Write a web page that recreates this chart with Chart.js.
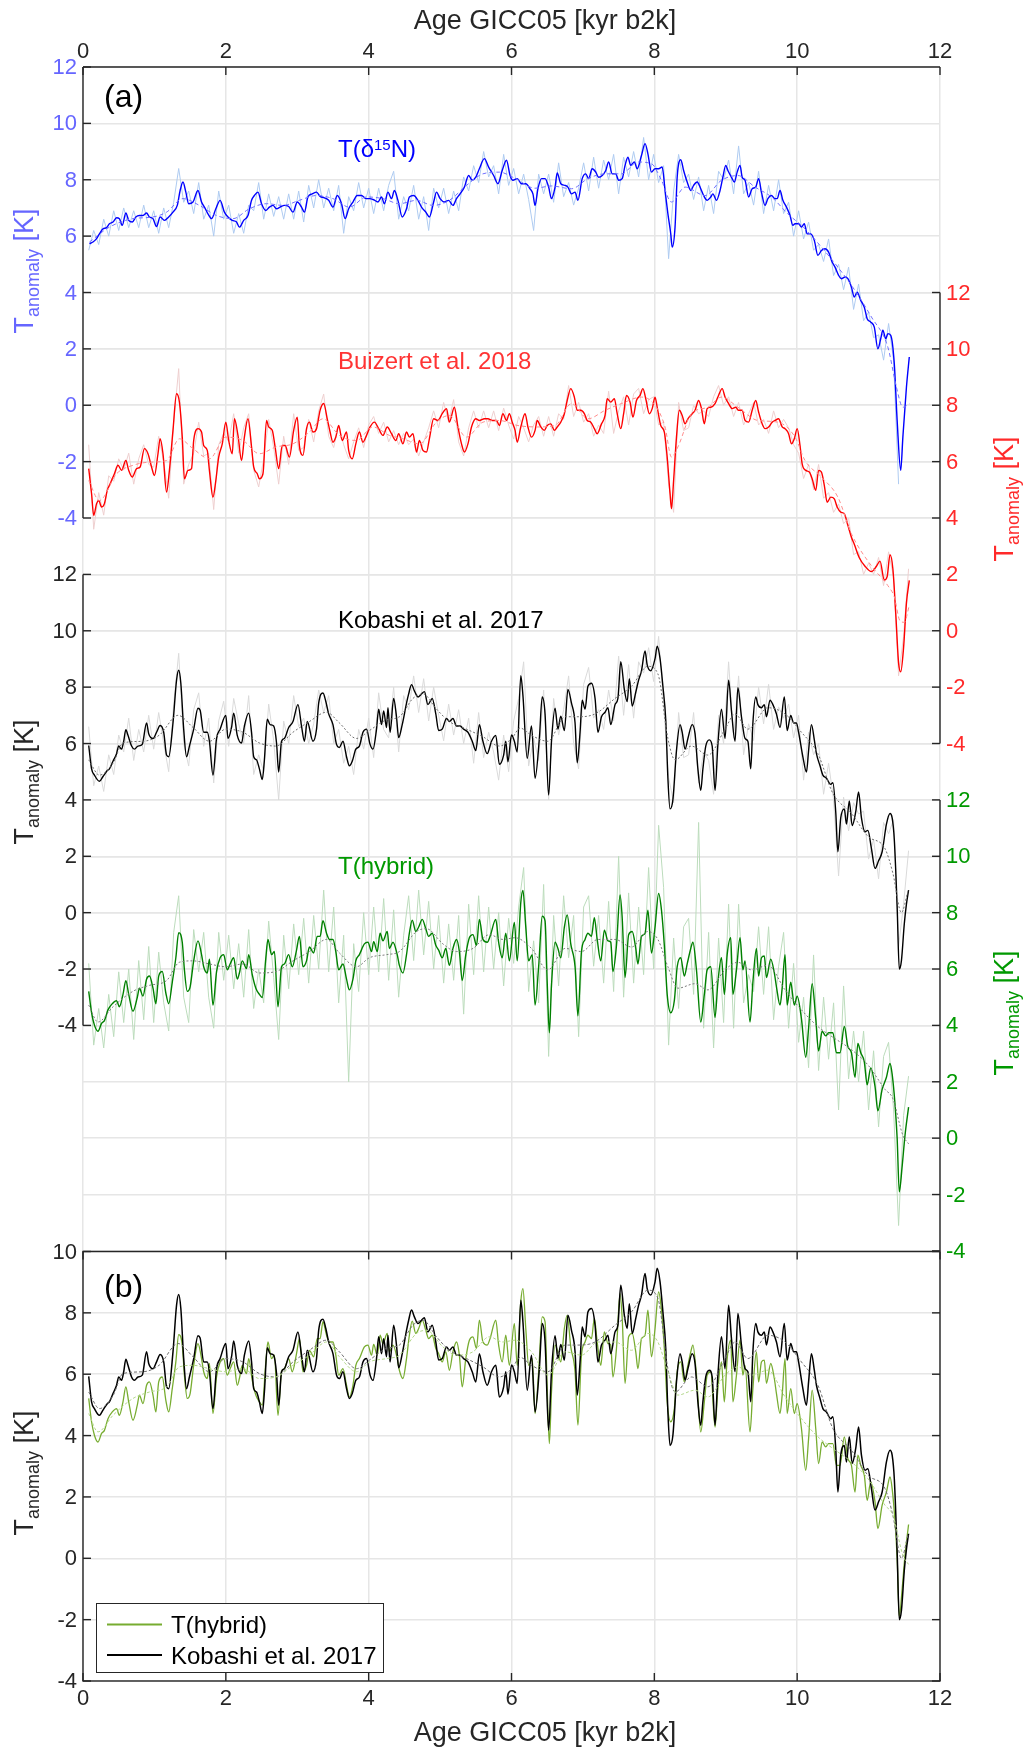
<!DOCTYPE html>
<html>
<head>
<meta charset="utf-8">
<title>Holocene Greenland temperature anomalies</title>
<script src="https://cdn.jsdelivr.net/npm/chart.js@4.4.1/dist/chart.umd.min.js"></script>
<style>
  html, body { margin: 0; padding: 0; background: #fff; }
  #wrap { width: 1030px; height: 1749px; }
</style>
</head>
<body>
<div id="wrap"><canvas id="tempChart" width="1030" height="1749"></canvas></div>
<script>
// ---- tick values ----
const X_TICKS = [0, 2, 4, 6, 8, 10, 12];
const A_TICKS = [-4, -2, 0, 2, 4, 6, 8, 10, 12];
const B_TICKS = [-4, -2, 0, 2, 4, 6, 8, 10];

// ---- undecimated records on a common age grid (kyr b2k) ----
const rawAge = [
  0.08,0.15,0.22,0.29,0.36,0.43,0.50,0.57,0.64,0.71,
  0.78,0.85,0.92,0.99,1.06,1.13,1.20,1.27,1.34,1.41,
  1.48,1.55,1.62,1.69,1.76,1.83,1.90,1.97,2.04,2.11,
  2.18,2.25,2.32,2.39,2.46,2.53,2.60,2.67,2.74,2.81,
  2.88,2.95,3.02,3.09,3.16,3.23,3.30,3.37,3.44,3.51,
  3.58,3.65,3.72,3.79,3.86,3.93,4.00,4.07,4.14,4.21,
  4.28,4.35,4.42,4.49,4.56,4.63,4.70,4.77,4.84,4.91,
  4.98,5.05,5.12,5.19,5.26,5.33,5.40,5.47,5.54,5.61,
  5.68,5.75,5.82,5.89,5.96,6.03,6.10,6.17,6.24,6.31,
  6.38,6.45,6.52,6.59,6.66,6.73,6.80,6.87,6.94,7.01,
  7.08,7.15,7.22,7.29,7.36,7.43,7.50,7.57,7.64,7.71,
  7.78,7.85,7.92,7.99,8.06,8.13,8.20,8.27,8.34,8.41,
  8.48,8.55,8.62,8.69,8.76,8.83,8.90,8.97,9.04,9.11,
  9.18,9.25,9.32,9.39,9.46,9.53,9.60,9.67,9.74,9.81,
  9.88,9.95,10.02,10.09,10.16,10.23,10.30,10.37,10.44,10.51,
  10.58,10.65,10.72,10.79,10.86,10.93,11.00,11.07,11.14,11.21,
  11.28,11.35,11.42,11.49,11.56
];
const dN15Raw = [
  5.5,6.2,5.7,6.6,6.0,6.9,6.2,7.0,6.3,6.9, 6.3,7.1,6.3,6.9,6.1,7.0,6.3,7.2,8.4,7.2,
  7.6,6.8,7.9,6.6,7.1,6.0,7.6,6.6,7.1,6.1, 6.8,6.1,7.1,6.9,7.9,6.6,7.5,6.7,7.4,6.6,
  7.5,6.6,7.6,6.5,7.8,7.0,8.0,7.0,7.7,6.9, 7.8,6.1,7.4,6.9,7.9,7.0,7.7,6.8,7.7,6.9,
  7.8,8.3,6.6,7.4,6.9,7.8,6.6,7.4,6.2,7.7, 7.0,7.7,6.8,7.6,6.9,8.1,7.6,8.5,7.9,9.0,
  8.1,8.5,7.5,8.9,7.8,8.4,7.5,8.2,7.3,6.2, 8.2,7.5,8.2,7.2,8.6,7.4,7.9,7.1,7.7,8.6,
  7.6,8.8,7.7,8.7,8.0,8.9,7.5,8.8,8.1,9.0, 8.1,9.5,8.0,8.9,7.9,8.5,5.2,7.6,8.9,7.9,
  8.2,7.3,8.1,6.9,7.8,6.8,8.3,8.0,8.7,7.5, 9.2,7.5,7.9,7.1,8.3,6.8,7.8,6.9,8.0,6.8,
  7.2,6.0,6.9,5.9,6.5,5.5,5.7,5.1,5.9,4.6, 5.0,4.1,4.9,3.4,4.3,3.0,3.3,2.4,2.5,1.6,
  2.9,1.6,-2.8,null,null
];
const buizertRaw = [
  6.6,3.6,4.9,4.1,5.5,5.3,6.1,5.7,6.3,5.2, 6.1,6.6,5.9,5.8,6.9,6.0,4.7,7.4,9.3,5.2,
  5.9,6.3,7.4,6.2,6.3,4.3,6.6,7.0,6.7,7.7, 6.3,7.2,7.7,5.7,5.1,6.1,7.5,6.5,5.2,6.9,
  5.9,7.7,6.4,6.5,7.5,6.7,7.8,8.4,6.9,6.5, 7.3,6.6,6.1,6.7,7.2,6.5,7.3,7.6,7.0,7.4,
  6.7,7.1,6.6,7.0,6.6,6.8,6.2,6.7,7.2,7.8, 7.2,8.1,7.4,8.2,6.7,6.2,7.2,7.8,7.2,7.8,
  7.2,7.8,7.1,7.9,7.3,6.8,7.6,7.2,6.7,7.3, 7.6,6.9,7.6,6.9,7.7,7.5,8.7,7.6,8.1,7.4,
  7.7,6.9,7.3,7.0,8.5,7.0,7.8,8.3,7.3,8.4, 8.6,7.7,8.2,8.3,7.3,7.4,5.2,4.2,8.1,7.1,
  7.2,8.0,7.7,7.8,7.6,8.3,8.7,8.0,8.3,7.6, 8.1,7.3,7.7,8.1,7.3,7.5,7.0,7.8,7.2,7.5,
  7.2,6.6,6.3,5.4,5.9,5.0,5.9,4.7,4.9,4.2, 4.5,3.8,4.0,2.7,2.8,2.0,2.4,2.0,2.6,1.6,
  2.8,1.9,-1.6,-0.2,2.2
];
const kobashiRaw = [
  6.6,4.5,5.2,4.3,5.6,4.9,6.3,5.7,6.9,5.4, 6.5,5.7,7.0,5.8,7.1,6.0,5.0,7.4,9.2,6.0,
  5.2,7.2,7.8,5.9,6.9,4.6,6.8,7.5,5.9,7.6, 6.7,6.0,7.7,4.9,5.6,5.0,7.4,6.1,4.0,6.8,
  6.0,7.7,6.6,6.9,6.0,6.7,7.9,7.1,7.7,6.0, 6.5,5.3,5.9,4.9,6.5,5.8,6.9,5.5,7.8,6.5,
  6.2,8.0,5.7,7.7,7.2,8.4,7.1,8.3,6.8,8.0, 7.0,6.1,7.4,6.3,7.2,6.0,6.9,5.3,7.1,5.5,
  6.4,5.7,4.7,6.3,5.0,6.8,7.6,8.9,5.2,6.2, 5.4,7.9,4.0,7.6,6.3,7.2,8.4,6.0,5.1,8.1,
  8.7,6.9,7.2,6.5,7.9,6.8,9.1,7.0,8.8,6.9, 8.9,8.5,9.4,8.2,9.8,7.4,4.8,3.9,7.1,5.5,
  5.6,7.1,4.6,5.7,5.4,4.2,7.0,6.0,8.9,6.2, 8.4,5.6,6.7,6.1,8.0,6.7,8.1,6.5,7.3,6.9,
  7.4,6.2,7.0,4.7,6.4,5.6,6.0,4.2,5.3,4.0, 1.3,4.1,2.9,3.9,3.5,3.6,1.9,2.6,1.2,3.2,
  2.8,3.3,-1.2,0.3,2.2
];
const hybridRaw = [
  6.2,3.3,4.6,3.2,5.1,3.6,5.9,4.1,6.0,3.5, 6.3,4.2,6.8,4.1,6.6,4.8,3.8,7.3,8.6,5.0,
  4.1,7.4,5.9,7.3,5.0,3.9,7.3,5.6,7.2,5.3, 6.9,5.0,7.4,4.6,6.0,4.8,7.7,5.7,3.5,7.2,
  5.3,7.6,5.8,7.8,5.5,7.9,6.0,8.8,5.9,8.2, 4.8,7.2,2.0,6.9,5.2,8.0,5.8,8.2,5.9,8.5,
  5.6,8.1,5.0,7.2,8.6,6.3,8.8,6.5,8.4,6.0, 7.9,5.5,7.6,5.6,7.9,4.4,8.3,5.8,8.6,5.9,
  8.2,6.0,8.0,5.4,7.8,6.2,8.2,9.6,5.2,7.0, 4.8,9.0,2.9,7.9,5.4,8.6,6.4,7.9,3.6,8.2,
  8.6,6.1,7.9,5.5,8.4,5.2,10.0,5.0,8.7,5.5, 8.2,5.8,9.6,6.0,11.1,8.9,3.3,7.1,4.6,7.5,
  7.8,5.1,11.2,3.9,7.3,3.2,7.1,4.1,8.3,3.9, 8.3,4.8,5.8,5.2,7.5,5.1,7.5,4.2,6.1,7.3,
  3.9,6.2,3.4,5.0,2.5,6.5,2.4,5.0,2.8,4.8, 1.0,5.4,2.1,3.8,2.0,3.8,1.0,3.1,0.4,2.9,
  3.4,1.0,-3.1,0.8,2.2
];

// ---- filtered records, [age kyr, T anomaly K] ----
const dN15Fit = [
  [0.09,5.73],[0.14,5.79],[0.19,5.91],[0.23,6.08],[0.28,6.26],[0.33,6.30],[0.37,6.44],[0.42,6.50],[0.47,6.65],[0.51,6.62],
  [0.55,6.38],[0.60,6.82],[0.64,6.56],[0.69,6.50],[0.74,6.68],[0.79,6.73],[0.84,6.73],[0.89,6.82],[0.93,6.68],[0.98,6.62],
  [1.03,6.34],[1.08,6.68],[1.14,6.56],[1.20,6.68],[1.26,6.85],[1.32,7.09],[1.36,7.62],[1.40,7.92],[1.44,7.56],[1.48,7.15],
  [1.54,7.21],[1.61,7.62],[1.66,7.21],[1.70,7.03],[1.75,6.79],[1.80,6.62],[1.86,6.97],[1.92,7.27],[1.98,6.85],[2.03,6.68],
  [2.09,6.56],[2.15,6.50],[2.19,6.32],[2.25,6.56],[2.31,6.73],[2.36,7.27],[2.40,7.44],[2.45,7.56],[2.50,7.15],[2.56,6.91],
  [2.61,7.03],[2.66,7.09],[2.71,6.97],[2.76,7.03],[2.82,7.09],[2.88,7.05],[2.94,6.85],[3.00,7.21],[3.06,7.03],[3.10,6.85],
  [3.15,7.39],[3.21,7.50],[3.27,7.56],[3.32,7.41],[3.38,7.36],[3.44,7.27],[3.50,7.03],[3.56,7.44],[3.62,7.15],[3.67,6.62],
  [3.72,6.97],[3.78,7.21],[3.84,7.44],[3.90,7.44],[3.96,7.33],[4.01,7.33],[4.07,7.29],[4.13,7.21],[4.18,7.39],[4.22,7.15],
  [4.27,7.56],[4.32,7.33],[4.36,7.62],[4.41,7.27],[4.47,6.68],[4.53,6.97],[4.57,7.39],[4.63,7.44],[4.69,7.27],[4.74,7.03],
  [4.80,6.85],[4.85,6.68],[4.91,7.21],[4.95,7.56],[5.00,7.33],[5.06,7.21],[5.12,7.27],[5.18,7.09],[5.23,7.33],[5.28,7.50],
  [5.34,7.74],[5.40,8.15],[5.45,7.98],[5.50,8.09],[5.55,8.39],[5.62,8.75],[5.68,8.45],[5.75,8.15],[5.81,7.86],[5.87,8.33],
  [5.93,8.69],[5.98,8.15],[6.02,7.98],[6.08,8.04],[6.14,7.86],[6.20,7.86],[6.26,7.68],[6.30,7.50],[6.33,7.09],[6.37,7.68],
  [6.42,8.04],[6.47,8.04],[6.52,7.74],[6.56,7.33],[6.61,7.74],[6.64,8.24],[6.69,7.86],[6.75,7.80],[6.79,7.74],[6.84,7.50],
  [6.89,7.56],[6.93,7.27],[6.99,8.04],[7.04,8.21],[7.08,8.04],[7.13,8.39],[7.18,8.27],[7.22,8.09],[7.27,8.15],[7.32,8.33],
  [7.36,8.63],[7.41,8.21],[7.46,8.21],[7.50,7.98],[7.55,8.04],[7.59,8.51],[7.63,8.80],[7.67,8.51],[7.72,8.63],[7.76,8.39],
  [7.82,8.86],[7.87,9.28],[7.91,8.92],[7.96,8.27],[8.01,8.39],[8.06,8.39],[8.11,8.45],[8.15,7.62],[8.19,6.79],[8.23,6.08],
  [8.25,5.61],[8.29,6.32],[8.32,8.09],[8.37,8.71],[8.41,8.33],[8.46,7.92],[8.51,7.62],[8.55,7.80],[8.60,7.92],[8.65,7.68],
  [8.69,7.44],[8.74,7.27],[8.79,7.39],[8.82,7.50],[8.87,7.27],[8.92,7.62],[8.96,8.09],[9.00,8.51],[9.03,8.33],[9.08,8.09],
  [9.12,7.92],[9.16,8.27],[9.20,8.51],[9.23,8.09],[9.27,7.98],[9.32,7.39],[9.37,7.68],[9.42,7.74],[9.46,8.04],[9.50,7.56],
  [9.55,7.09],[9.59,7.33],[9.64,7.44],[9.69,7.33],[9.72,7.33],[9.76,7.62],[9.80,7.27],[9.85,7.03],[9.90,6.73],[9.94,6.38],
  [9.97,6.44],[10.02,6.44],[10.06,6.32],[10.10,6.44],[10.14,6.08],[10.19,6.08],[10.24,5.85],[10.29,5.32],[10.34,5.49],[10.39,5.55],
  [10.44,5.43],[10.49,5.08],[10.53,4.90],[10.58,4.61],[10.62,4.49],[10.67,4.55],[10.71,4.49],[10.76,4.19],[10.80,3.84],[10.84,4.01],
  [10.89,3.72],[10.94,3.48],[10.98,3.07],[11.03,2.95],[11.08,2.77],[11.13,2.00],[11.17,2.36],[11.20,2.66],[11.24,2.36],[11.27,2.54],
  [11.31,2.48],[11.36,1.47],[11.40,-0.54],[11.45,-2.31],[11.48,-1.13],[11.53,0.64],[11.57,1.71]
];
const buizertFit = [
  [0.08,5.75],[0.12,4.86],[0.15,4.09],[0.19,4.51],[0.22,4.62],[0.26,4.39],[0.30,4.51],[0.34,4.98],[0.38,5.21],[0.44,5.57],
  [0.49,5.87],[0.54,5.69],[0.60,6.04],[0.64,5.69],[0.69,5.45],[0.75,5.75],[0.80,5.81],[0.86,6.46],[0.91,6.28],[0.96,5.81],
  [1.00,5.51],[1.05,6.28],[1.08,6.81],[1.12,6.28],[1.17,4.92],[1.21,5.69],[1.26,7.11],[1.31,8.41],[1.35,8.11],[1.39,6.87],
  [1.42,5.39],[1.47,5.69],[1.52,5.75],[1.55,6.75],[1.61,7.17],[1.66,7.05],[1.69,6.57],[1.74,6.40],[1.77,5.69],[1.82,4.74],
  [1.86,5.33],[1.90,6.16],[1.95,6.63],[2.00,7.40],[2.04,6.75],[2.09,6.28],[2.12,7.52],[2.17,6.93],[2.22,6.04],[2.26,6.87],
  [2.31,7.52],[2.36,6.52],[2.39,5.81],[2.44,5.57],[2.47,5.39],[2.52,5.57],[2.57,7.46],[2.60,7.23],[2.65,7.11],[2.69,6.52],
  [2.74,5.75],[2.79,6.57],[2.83,6.57],[2.89,6.16],[2.95,7.11],[3.00,7.58],[3.03,6.57],[3.08,6.22],[3.13,7.17],[3.17,7.40],
  [3.22,7.05],[3.27,7.17],[3.32,7.82],[3.37,8.06],[3.42,7.52],[3.46,7.05],[3.50,6.69],[3.54,6.87],[3.58,7.28],[3.63,6.75],
  [3.69,7.05],[3.72,6.40],[3.77,6.10],[3.82,6.63],[3.87,7.05],[3.92,6.69],[3.97,6.93],[4.02,7.23],[4.08,7.40],[4.14,7.17],
  [4.20,6.93],[4.26,7.23],[4.32,6.99],[4.38,6.75],[4.42,6.99],[4.48,6.63],[4.53,7.05],[4.57,6.87],[4.62,6.99],[4.67,6.34],
  [4.71,6.75],[4.76,6.40],[4.81,6.34],[4.85,6.81],[4.91,7.52],[4.97,7.46],[5.03,7.70],[5.09,7.88],[5.13,7.40],[5.20,7.93],
  [5.25,7.23],[5.30,6.63],[5.34,6.34],[5.39,6.63],[5.44,7.23],[5.50,7.52],[5.55,7.46],[5.62,7.52],[5.67,7.52],[5.73,7.46],
  [5.79,7.46],[5.83,7.28],[5.88,7.70],[5.93,7.46],[5.97,7.70],[6.01,7.40],[6.05,7.11],[6.08,6.69],[6.13,7.23],[6.19,7.70],
  [6.23,7.23],[6.28,6.87],[6.33,7.11],[6.36,7.46],[6.41,7.23],[6.46,7.11],[6.50,7.28],[6.55,7.34],[6.60,7.11],[6.64,7.23],
  [6.69,7.40],[6.74,7.70],[6.78,8.17],[6.83,8.59],[6.88,8.29],[6.92,7.82],[6.97,7.82],[7.02,7.70],[7.06,7.46],[7.11,7.40],
  [7.16,7.17],[7.20,6.99],[7.26,7.34],[7.31,7.64],[7.34,8.23],[7.39,8.11],[7.44,8.23],[7.48,7.70],[7.53,7.17],[7.57,7.70],
  [7.61,8.35],[7.66,8.11],[7.70,7.58],[7.75,8.17],[7.80,8.35],[7.84,8.59],[7.88,8.23],[7.93,7.70],[7.97,7.88],[8.01,8.29],
  [8.04,7.93],[8.09,7.28],[8.14,7.05],[8.18,6.16],[8.22,4.86],[8.24,4.33],[8.27,5.33],[8.31,6.87],[8.35,7.82],[8.39,7.64],
  [8.43,7.34],[8.47,7.52],[8.53,7.70],[8.57,7.82],[8.62,8.17],[8.66,7.88],[8.70,7.34],[8.74,7.88],[8.79,7.93],[8.85,8.06],
  [8.89,8.29],[8.95,8.59],[8.99,8.29],[9.04,8.06],[9.09,7.88],[9.14,7.93],[9.18,7.82],[9.23,7.82],[9.27,7.46],[9.32,7.40],
  [9.37,7.82],[9.42,8.17],[9.46,7.76],[9.51,7.34],[9.55,7.17],[9.60,7.23],[9.65,7.40],[9.69,7.46],[9.74,7.52],[9.79,7.23],
  [9.83,7.17],[9.88,6.99],[9.92,6.63],[9.96,6.81],[10.00,7.17],[10.04,6.57],[10.07,5.92],[10.12,5.69],[10.17,5.63],[10.21,5.39],
  [10.26,4.98],[10.30,5.69],[10.34,5.63],[10.38,5.16],[10.42,4.56],[10.47,4.74],[10.52,4.68],[10.56,4.39],[10.61,4.21],[10.66,4.15],
  [10.71,3.74],[10.76,3.32],[10.80,3.07],[10.87,2.59],[10.95,2.29],[11.04,2.10],[11.11,2.29],[11.16,2.47],[11.22,1.80],[11.26,1.92],
  [11.30,2.70],[11.34,2.20],[11.38,0.63],[11.42,-1.14],[11.45,-1.46],[11.49,-0.60],[11.53,0.98],[11.57,1.79]
];
const kobashiFit = [
  [0.08,5.93],[0.12,5.10],[0.16,4.88],[0.23,4.66],[0.28,4.83],[0.34,5.04],[0.37,5.10],[0.42,5.37],[0.47,5.64],[0.50,5.91],
  [0.54,5.80],[0.57,6.08],[0.60,6.49],[0.63,6.29],[0.68,5.91],[0.72,5.80],[0.77,5.91],[0.83,5.97],[0.89,6.73],[0.92,6.35],
  [0.98,6.18],[1.03,6.40],[1.08,6.64],[1.13,6.40],[1.17,5.59],[1.20,5.53],[1.26,6.73],[1.31,8.25],[1.34,8.60],[1.37,8.14],
  [1.41,6.51],[1.45,5.53],[1.49,5.91],[1.55,6.51],[1.61,7.25],[1.64,7.18],[1.69,6.40],[1.74,6.40],[1.77,6.08],[1.82,4.88],
  [1.87,6.18],[1.92,6.51],[2.00,7.00],[2.03,6.18],[2.08,6.57],[2.11,7.08],[2.16,6.29],[2.22,6.02],[2.26,6.62],[2.32,7.08],
  [2.36,6.40],[2.39,5.53],[2.43,5.42],[2.47,5.10],[2.51,4.72],[2.54,5.42],[2.58,6.86],[2.62,6.67],[2.67,6.62],[2.71,6.02],
  [2.74,4.99],[2.78,6.08],[2.82,6.18],[2.88,6.57],[2.94,6.78],[3.01,7.38],[3.06,6.62],[3.10,6.08],[3.14,6.78],[3.22,6.08],
  [3.27,6.51],[3.30,7.43],[3.36,7.79],[3.40,7.49],[3.44,7.05],[3.50,6.67],[3.55,5.97],[3.59,5.86],[3.64,6.08],[3.69,5.53],
  [3.73,5.21],[3.77,5.37],[3.82,5.80],[3.87,5.91],[3.92,6.40],[3.97,6.51],[4.02,5.97],[4.06,5.80],[4.11,6.51],[4.14,7.22],
  [4.18,6.67],[4.21,7.16],[4.25,6.57],[4.27,7.27],[4.30,6.40],[4.35,7.60],[4.39,6.94],[4.42,6.21],[4.47,6.67],[4.53,7.43],
  [4.56,7.76],[4.60,8.09],[4.64,7.87],[4.69,7.65],[4.74,7.76],[4.78,7.84],[4.83,7.38],[4.89,7.60],[4.94,7.05],[4.98,6.46],
  [5.03,6.51],[5.09,6.89],[5.13,6.78],[5.18,6.89],[5.23,6.62],[5.28,6.62],[5.33,6.51],[5.39,6.40],[5.45,6.08],[5.50,5.75],
  [5.55,6.67],[5.60,6.08],[5.66,5.64],[5.72,6.08],[5.78,6.29],[5.83,5.26],[5.89,5.59],[5.92,6.08],[5.95,5.35],[6.00,6.30],
  [6.04,6.08],[6.08,5.70],[6.13,8.41],[6.16,7.71],[6.22,5.48],[6.28,6.62],[6.33,4.77],[6.39,6.18],[6.43,7.65],[6.47,7.05],
  [6.52,4.17],[6.56,6.08],[6.61,7.25],[6.65,6.51],[6.69,6.97],[6.74,6.46],[6.79,7.92],[6.84,7.43],[6.89,6.73],[6.92,5.32],
  [6.96,6.40],[6.99,7.54],[7.03,7.22],[7.07,8.03],[7.12,8.14],[7.17,7.60],[7.21,6.40],[7.26,6.95],[7.31,7.11],[7.35,7.27],
  [7.39,6.67],[7.45,7.38],[7.49,7.60],[7.53,8.90],[7.58,7.92],[7.62,7.49],[7.65,8.30],[7.69,7.33],[7.74,7.82],[7.78,8.25],
  [7.82,8.58],[7.87,9.28],[7.90,8.79],[7.95,8.58],[8.01,9.01],[8.04,9.45],[8.08,9.01],[8.12,8.03],[8.16,6.84],[8.19,4.77],
  [8.22,3.68],[8.26,4.01],[8.31,5.75],[8.36,6.67],[8.39,6.40],[8.43,5.80],[8.47,6.18],[8.53,6.67],[8.57,6.35],[8.61,5.10],
  [8.65,4.34],[8.68,5.10],[8.72,5.91],[8.77,6.13],[8.81,5.91],[8.85,4.34],[8.89,5.97],[8.94,7.22],[8.99,6.18],[9.04,8.25],
  [9.08,7.16],[9.13,6.08],[9.17,7.98],[9.22,6.95],[9.27,6.18],[9.31,6.08],[9.35,5.10],[9.38,6.73],[9.42,7.65],[9.45,7.38],
  [9.50,7.27],[9.54,7.38],[9.57,6.95],[9.62,7.54],[9.66,7.38],[9.71,7.05],[9.76,6.57],[9.82,7.65],[9.86,6.46],[9.91,7.00],
  [9.95,6.73],[9.99,6.73],[10.02,6.40],[10.08,5.53],[10.13,4.99],[10.16,5.75],[10.20,6.67],[10.24,6.13],[10.27,5.64],[10.32,5.21],
  [10.36,4.88],[10.41,4.77],[10.47,4.55],[10.50,4.61],[10.54,3.57],[10.57,2.16],[10.61,3.36],[10.66,3.68],[10.69,3.14],[10.73,3.96],
  [10.77,3.09],[10.82,3.58],[10.86,4.28],[10.90,3.36],[10.95,2.87],[10.99,2.92],[11.04,2.27],[11.09,1.57],[11.14,1.84],[11.19,2.16],
  [11.25,3.14],[11.30,3.52],[11.33,3.36],[11.36,2.60],[11.40,0.20],[11.43,-2.00],[11.46,-1.70],[11.50,-0.40],[11.53,0.30],[11.56,0.80]
];
const hybridFit = [
  [0.08,5.21],[0.12,4.45],[0.16,4.01],[0.21,3.79],[0.26,4.07],[0.30,4.17],[0.35,4.55],[0.41,4.77],[0.47,4.88],[0.51,4.66],
  [0.56,5.10],[0.60,5.59],[0.64,5.10],[0.70,4.50],[0.76,4.99],[0.79,5.32],[0.84,5.04],[0.89,5.64],[0.93,5.75],[0.98,5.32],
  [1.02,4.77],[1.06,5.75],[1.11,5.91],[1.16,5.15],[1.20,4.77],[1.25,5.53],[1.30,6.40],[1.34,7.29],[1.39,6.95],[1.42,5.97],
  [1.46,5.21],[1.50,5.37],[1.55,6.29],[1.61,7.00],[1.66,6.51],[1.69,6.08],[1.74,5.86],[1.77,6.35],[1.82,4.72],[1.87,5.91],
  [1.92,6.40],[1.97,6.51],[2.02,5.97],[2.06,6.18],[2.11,6.40],[2.16,5.64],[2.19,5.86],[2.23,6.29],[2.29,6.02],[2.32,6.51],
  [2.37,5.80],[2.42,5.32],[2.47,5.10],[2.51,4.99],[2.56,6.40],[2.59,7.05],[2.64,6.51],[2.68,6.62],[2.73,4.66],[2.78,6.08],
  [2.82,6.18],[2.88,6.51],[2.93,6.08],[2.99,6.67],[3.03,7.16],[3.08,6.08],[3.13,6.29],[3.17,6.78],[3.23,6.57],[3.28,7.16],
  [3.32,7.16],[3.36,7.71],[3.41,7.27],[3.45,7.05],[3.50,7.05],[3.54,6.62],[3.58,5.97],[3.64,6.18],[3.69,5.64],[3.73,5.26],
  [3.78,5.64],[3.82,6.29],[3.87,6.51],[3.94,6.89],[3.99,6.95],[4.04,6.62],[4.07,6.97],[4.12,6.62],[4.16,7.27],[4.20,7.00],
  [4.26,7.33],[4.29,6.73],[4.34,6.95],[4.40,6.51],[4.43,6.13],[4.48,5.86],[4.53,6.51],[4.57,7.27],[4.61,7.73],[4.66,7.33],
  [4.70,7.49],[4.75,7.76],[4.80,7.43],[4.84,7.16],[4.89,7.27],[4.94,6.84],[4.98,6.67],[5.03,6.40],[5.08,6.73],[5.13,6.13],
  [5.18,6.73],[5.23,7.05],[5.27,6.62],[5.31,5.59],[5.36,6.51],[5.41,7.11],[5.46,7.22],[5.51,6.84],[5.55,7.76],[5.60,7.05],
  [5.66,6.95],[5.70,7.16],[5.78,7.76],[5.82,6.95],[5.87,6.40],[5.92,7.27],[5.97,6.29],[6.04,7.65],[6.08,6.29],[6.13,8.36],
  [6.16,8.79],[6.20,7.49],[6.24,6.29],[6.29,6.51],[6.33,4.72],[6.38,6.08],[6.43,7.87],[6.47,7.71],[6.50,5.53],[6.53,3.74],
  [6.56,5.42],[6.61,6.95],[6.65,6.73],[6.69,6.40],[6.74,7.49],[6.78,7.92],[6.83,6.89],[6.89,6.08],[6.93,4.34],[6.98,6.62],
  [7.03,7.05],[7.07,7.27],[7.12,7.16],[7.16,7.82],[7.20,7.05],[7.25,6.29],[7.30,7.38],[7.35,7.00],[7.39,6.95],[7.42,5.91],
  [7.47,6.84],[7.52,8.63],[7.55,7.82],[7.59,5.70],[7.64,7.22],[7.69,7.33],[7.74,6.73],[7.77,6.18],[7.82,7.16],[7.87,7.27],
  [7.91,8.09],[7.96,6.57],[8.01,7.49],[8.06,8.68],[8.10,8.09],[8.14,6.84],[8.18,5.10],[8.23,4.45],[8.28,4.88],[8.32,6.08],
  [8.37,6.40],[8.42,5.75],[8.46,6.18],[8.51,6.73],[8.54,6.95],[8.59,5.97],[8.65,4.12],[8.70,5.10],[8.74,5.97],[8.79,6.08],
  [8.85,4.28],[8.89,5.53],[8.94,6.40],[8.98,5.10],[9.02,6.51],[9.07,7.11],[9.10,5.10],[9.15,5.97],[9.20,7.11],[9.24,5.97],
  [9.27,6.29],[9.34,4.12],[9.38,5.53],[9.43,6.73],[9.46,5.75],[9.50,6.40],[9.54,6.46],[9.57,5.70],[9.63,6.35],[9.68,5.86],
  [9.71,5.37],[9.76,4.72],[9.79,5.32],[9.83,6.51],[9.86,4.72],[9.91,5.53],[9.96,4.72],[10.00,5.04],[10.06,4.23],[10.12,2.87],
  [10.16,3.90],[10.21,5.48],[10.26,4.23],[10.30,3.09],[10.35,3.79],[10.40,3.63],[10.44,3.74],[10.50,3.74],[10.55,3.03],[10.60,3.03],
  [10.66,3.96],[10.71,3.25],[10.76,3.03],[10.81,2.16],[10.85,3.36],[10.89,3.03],[10.94,2.71],[10.98,1.89],[11.03,2.49],[11.09,1.84],
  [11.13,0.97],[11.19,1.73],[11.25,2.16],[11.30,2.65],[11.33,2.27],[11.37,1.20],[11.40,0.00],[11.43,-1.90],[11.47,-1.00],[11.51,0.10],
  [11.56,1.10]
];

// ---- long-term trends, [age kyr, T anomaly K] ----
const dN15Trend = [
  [0.09,5.79],[0.37,6.32],[0.70,6.62],[0.98,6.68],[1.17,6.85],[1.40,7.33],[1.63,7.09],[1.87,6.73],[2.10,6.62],[2.33,6.97],
  [2.57,7.15],[2.80,7.09],[3.03,7.27],[3.27,7.44],[3.50,7.33],[3.73,7.03],[3.97,7.39],[4.20,7.33],[4.43,7.15],[4.67,7.27],
  [4.90,7.09],[5.13,7.27],[5.37,7.80],[5.60,8.21],[5.83,8.27],[6.05,8.05],[6.33,7.70],[6.56,7.78],[6.84,7.68],[7.07,8.04],
  [7.31,8.21],[7.54,8.21],[7.77,8.63],[7.96,8.57],[8.10,7.98],[8.24,7.21],[8.43,7.74],[8.71,7.44],[8.94,7.98],[9.17,8.15],
  [9.41,7.74],[9.64,7.39],[9.87,6.79],[10.11,6.26],[10.34,5.61],[10.57,4.90],[10.81,4.07],[11.04,3.13],[11.27,2.06],[11.39,0.64],
  [11.48,-0.07],[11.57,0.05]
];
const buizertTrend = [
  [0.08,5.33],[0.23,4.62],[0.47,5.57],[0.70,5.87],[0.93,5.98],[1.17,6.04],[1.35,6.81],[1.54,6.46],[1.77,6.10],[2.00,6.87],
  [2.24,6.75],[2.47,6.28],[2.70,6.52],[2.94,6.63],[3.17,7.05],[3.36,7.52],[3.59,6.93],[3.83,6.75],[4.06,7.23],[4.29,6.93],
  [4.48,6.81],[4.71,6.63],[4.95,7.40],[5.13,7.64],[5.37,6.87],[5.60,7.40],[5.83,7.46],[6.09,7.28],[6.37,7.23],[6.61,7.28],
  [6.84,8.06],[7.07,7.52],[7.31,7.82],[7.54,8.06],[7.82,8.29],[8.01,8.00],[8.15,7.23],[8.24,6.16],[8.33,6.52],[8.52,7.70],
  [8.75,7.93],[8.94,8.29],[9.17,7.93],[9.45,7.46],[9.73,7.40],[9.97,6.87],[10.11,6.04],[10.34,5.45],[10.57,4.74],[10.76,3.44],
  [11.04,2.30],[11.27,1.60],[11.36,1.20],[11.44,0.35],[11.50,0.30],[11.57,0.90]
];
const kobashiTrend = [
  [0.08,5.42],[0.23,4.88],[0.42,5.30],[0.56,6.02],[0.84,6.08],[1.07,6.30],[1.33,7.00],[1.54,6.57],[1.77,6.08],[2.00,6.51],
  [2.24,6.40],[2.47,6.02],[2.70,5.91],[2.94,6.40],[3.17,6.78],[3.41,7.11],[3.59,6.73],[3.83,6.18],[4.01,6.46],[4.25,6.84],
  [4.43,6.95],[4.62,7.60],[4.76,7.76],[4.95,7.22],[5.13,6.78],[5.37,6.51],[5.60,6.24],[5.83,5.91],[6.01,6.20],[6.12,6.55],
  [6.28,6.29],[6.51,6.08],[6.75,6.95],[6.93,6.95],[7.17,7.05],[7.45,7.60],[7.68,8.03],[7.91,8.74],[8.05,8.47],[8.19,6.18],
  [8.29,5.42],[8.52,5.91],[8.75,5.59],[8.99,6.51],[9.13,7.05],[9.31,6.51],[9.59,7.27],[9.83,7.05],[10.06,6.40],[10.29,5.64],
  [10.50,4.23],[10.76,3.52],[10.99,2.71],[11.23,2.27],[11.34,1.40],[11.46,0.00],[11.55,0.75]
];
const hybridTrend = [
  [0.08,4.72],[0.21,4.12],[0.42,4.66],[0.70,5.21],[0.93,5.42],[1.17,5.59],[1.35,6.24],[1.54,6.29],[1.77,6.18],[2.00,6.08],
  [2.24,6.18],[2.47,5.86],[2.70,5.91],[2.94,6.29],[3.17,6.62],[3.41,7.05],[3.59,6.57],[3.83,6.08],[4.01,6.40],[4.25,6.51],
  [4.43,6.62],[4.67,7.33],[4.81,7.43],[5.04,6.89],[5.23,6.62],[5.46,6.73],[5.69,7.22],[5.88,7.05],[6.05,7.11],[6.28,6.73],
  [6.51,5.97],[6.75,6.73],[6.98,6.62],[7.21,7.05],[7.45,7.05],[7.68,6.78],[7.91,7.33],[8.05,7.05],[8.19,6.08],[8.33,5.32],
  [8.57,5.48],[8.75,5.26],[8.99,5.97],[9.17,6.24],[9.36,5.97],[9.59,6.13],[9.83,5.26],[10.06,4.55],[10.29,3.96],[10.50,3.58],
  [10.76,3.14],[10.99,2.60],[11.23,1.73],[11.34,1.40],[11.48,0.10],[11.56,-0.20]
];

// ---- layout ----
const FONT = "'Liberation Sans', Arial, Helvetica, sans-serif";
const AXIS_COLOR = '#262626';
const GRID_COLOR = '#e6e6e6';
const PLOT = { left: 83, right: 940, top: 67, bottom: 1681 };
const A_UNIT = 451 / 16;     // px per kelvin, stacked panel
const B_UNIT = 429.5 / 14;   // px per kelvin, comparison panel
const TICK_LEN = 8;

// axis range so that `value` lands on pixel row `px`
function span(value, px, unit) {
  const max = value + (px - PLOT.top) / unit;
  return { min: max - (PLOT.bottom - PLOT.top) / unit, max };
}
const RANGES = {
  yBlue: span(12, 67, A_UNIT),
  yRed: span(12, 292.5, A_UNIT),
  yBlack: span(12, 574.4, A_UNIT),
  yGreen: span(12, 799.9, A_UNIT),
  yB: span(10, 1251.5, B_UNIT)
};

// y axes: id, side, tick values, label colour
const Y_AXES = [
  ['yBlue', 'left', A_TICKS, '#6666ff'],
  ['yBlack', 'left', A_TICKS, AXIS_COLOR],
  ['yB', 'left', B_TICKS, AXIS_COLOR],
  ['yRed', 'right', A_TICKS, '#ff2a2a'],
  ['yGreen', 'right', A_TICKS, '#009900']
];

Chart.defaults.font.family = FONT;

// the stacked axes share one edge, so their labels are written by the frame plugin
function yAxis(position, range, ticks, size, weight) {
  return {
    type: 'linear', position, weight, bounds: 'data',
    min: range.min, max: range.max,
    afterBuildTicks: s => { s.ticks = ticks.map(v => ({ value: v })); },
    afterFit: s => { s.width = size; },
    grid: { color: GRID_COLOR, lineWidth: 1.5, drawTicks: false },
    border: { display: false },
    ticks: { display: false }
  };
}

const pairs = list => list.map(p => ({ x: p[0], y: p[1] }));
const onGrid = vals => vals.map((v, i) => ({ x: rawAge[i], y: v }));

function series(data, axis, color, width, order, dash) {
  return {
    data, yAxisID: axis, borderColor: color, borderWidth: width, order,
    borderDash: dash || [], pointRadius: 0, fill: false,
    cubicInterpolationMode: order < 3 ? 'monotone' : 'default',
    tension: 0
  };
}

const datasets = [
  // stacked panel: raw records
  series(onGrid(dN15Raw), 'yBlue', '#aecbf1', 1, 3),
  series(onGrid(buizertRaw), 'yRed', '#eecfcf', 1, 3),
  series(onGrid(kobashiRaw), 'yBlack', '#dadada', 1, 3),
  series(onGrid(hybridRaw), 'yGreen', '#bcdcbc', 1, 3),
  // stacked panel: filtered
  series(pairs(dN15Fit), 'yBlue', '#0000ff', 1.4, 2),
  series(pairs(buizertFit), 'yRed', '#ff0000', 1.4, 2),
  series(pairs(kobashiFit), 'yBlack', '#000000', 1.4, 2),
  series(pairs(hybridFit), 'yGreen', '#008000', 1.4, 2),
  // stacked panel: trends
  series(pairs(dN15Trend), 'yBlue', '#7070ff', 1, 1, [4, 3]),
  series(pairs(buizertTrend), 'yRed', '#ff8c8c', 1, 1, [4, 3]),
  series(pairs(kobashiTrend), 'yBlack', '#6e6e6e', 1, 1, [2, 2]),
  series(pairs(hybridTrend), 'yGreen', '#7a7a7a', 1, 1, [2, 2]),
  // comparison panel
  series(pairs(hybridFit), 'yB', '#77ac30', 1.3, 2.5),
  series(pairs(kobashiFit), 'yB', '#000000', 1.5, 2),
  series(pairs(hybridTrend), 'yB', '#b4d88c', 1, 1, [3, 2]),
  series(pairs(kobashiTrend), 'yB', '#6e6e6e', 1, 1, [3, 2])
];

// ---- text helpers ----
function richText(ctx, parts, x, y, align) {
  let w = 0;
  parts.forEach(p => { ctx.font = p[1] + 'px ' + FONT; w += ctx.measureText(p[0]).width; });
  let cx = align === 'center' ? x - w / 2 : x;
  parts.forEach(p => {
    ctx.font = p[1] + 'px ' + FONT;
    ctx.fillText(p[0], cx, y + p[2]);
    cx += ctx.measureText(p[0]).width;
  });
}
function yTitle(ctx, xBase, yMid, color) {
  ctx.save();
  ctx.translate(xBase, yMid);
  ctx.rotate(-Math.PI / 2);
  ctx.fillStyle = color;
  richText(ctx, [['T', 27, 0], ['anomaly', 18, 6], [' [K]', 27, 0]], 0, 0, 'center');
  ctx.restore();
}

// axis lines with inward ticks, y labels, titles, record names and legend
const frame = {
  id: 'frame',
  afterDraw(chart) {
    const ctx = chart.ctx;
    const { left, right, top } = chart.chartArea;
    const sx = chart.scales.x;
    const line = (x1, y1, x2, y2) => { ctx.beginPath(); ctx.moveTo(x1, y1); ctx.lineTo(x2, y2); ctx.stroke(); };
    ctx.save();
    ctx.strokeStyle = AXIS_COLOR;
    ctx.lineWidth = 1.4;

    // top axis of the stacked panel
    line(left, top, right, top);
    X_TICKS.forEach(v => { const x = sx.getPixelForValue(v); line(x, top, x, top + TICK_LEN); });

    // partial y axes of the stacked panel
    [['yBlue', left, 1], ['yBlack', left, 1], ['yRed', right, -1], ['yGreen', right, -1]].forEach(([id, x, dir]) => {
      const sc = chart.scales[id];
      line(x, sc.getPixelForValue(12), x, sc.getPixelForValue(-4));
      A_TICKS.forEach(v => { const y = sc.getPixelForValue(v); line(x, y, x + dir * TICK_LEN, y); });
    });

    // boxed comparison panel
    const sb = chart.scales.yB;
    const bTop = sb.getPixelForValue(10), bBot = sb.getPixelForValue(-4);
    ctx.strokeRect(left, bTop, right - left, bBot - bTop);
    X_TICKS.forEach(v => {
      const x = sx.getPixelForValue(v);
      line(x, bBot, x, bBot - TICK_LEN);
      line(x, bTop, x, bTop + TICK_LEN);
    });
    B_TICKS.forEach(v => {
      const y = sb.getPixelForValue(v);
      line(left, y, left + TICK_LEN, y);
      line(right, y, right - TICK_LEN, y);
    });

    // y tick labels
    ctx.font = '22px ' + FONT;
    ctx.textBaseline = 'middle';
    Y_AXES.forEach(([id, side, ticks, color]) => {
      const sc = chart.scales[id];
      ctx.fillStyle = color;
      ctx.textAlign = side === 'left' ? 'right' : 'left';
      const x = side === 'left' ? left - 6 : right + 6;
      ticks.forEach(v => ctx.fillText(String(v), x, sc.getPixelForValue(v) + 1));
    });

    // axis titles
    ctx.textBaseline = 'alphabetic';
    ctx.textAlign = 'left';
    ctx.fillStyle = AXIS_COLOR;
    richText(ctx, [['Age GICC05 [kyr b2k]', 27, 0]], 545, 29, 'center');
    richText(ctx, [['Age GICC05 [kyr b2k]', 27, 0]], 545, 1741, 'center');
    yTitle(ctx, 33, 271, '#6666ff');
    yTitle(ctx, 33, 782, AXIS_COLOR);
    yTitle(ctx, 33, 1473, AXIS_COLOR);
    yTitle(ctx, 1013, 499, '#ff2a2a');
    yTitle(ctx, 1013, 1013, '#009900');

    // panel letters and record names
    ctx.fillStyle = '#000000';
    richText(ctx, [['(a)', 32, 0]], 104, 107);
    richText(ctx, [['(b)', 32, 0]], 104, 1297);
    ctx.fillStyle = '#0000ff';
    richText(ctx, [['T(\u03b4', 24, 0], ['15', 15, -7], ['N)', 24, 0]], 338, 157);
    ctx.fillStyle = '#ff3333';
    richText(ctx, [['Buizert et al. 2018', 24, 0]], 338, 369);
    ctx.fillStyle = '#000000';
    richText(ctx, [['Kobashi et al. 2017', 24, 0]], 338, 628);
    ctx.fillStyle = '#009900';
    richText(ctx, [['T(hybrid)', 24, 0]], 338, 874);

    // legend of the comparison panel
    ctx.fillStyle = '#ffffff';
    ctx.fillRect(96, 1603, 287, 69);
    ctx.lineWidth = 1;
    ctx.strokeRect(96.5, 1603.5, 287, 69);
    ctx.lineWidth = 2;
    ctx.strokeStyle = '#77ac30';
    line(107, 1624.5, 162, 1624.5);
    ctx.strokeStyle = '#000000';
    line(107, 1655, 162, 1655);
    ctx.fillStyle = '#000000';
    richText(ctx, [['T(hybrid)', 24, 0]], 171, 1633);
    richText(ctx, [['Kobashi et al. 2017', 24, 0]], 171, 1664);
    ctx.restore();
  }
};

new Chart(document.getElementById('tempChart'), {
  type: 'line',
  data: { datasets },
  options: {
    responsive: false,
    animation: false,
    devicePixelRatio: 1,
    events: [],
    parsing: false,
    normalized: true,
    layout: { padding: 0 },
    plugins: { legend: { display: false }, tooltip: { enabled: false } },
    scales: {
      x: {
        type: 'linear', position: 'bottom', min: 0, max: 12, bounds: 'data',
        afterBuildTicks: s => { s.ticks = X_TICKS.map(v => ({ value: v })); },
        afterFit: s => { s.height = 1749 - PLOT.bottom; },
        grid: { color: GRID_COLOR, lineWidth: 1.5, drawTicks: false },
        border: { display: false },
        ticks: { color: AXIS_COLOR, font: { size: 22 }, padding: 5, maxRotation: 0, autoSkip: false }
      },
      xTop: {
        type: 'linear', position: 'top', min: 0, max: 12, bounds: 'data',
        afterBuildTicks: s => { s.ticks = X_TICKS.map(v => ({ value: v })); },
        afterFit: s => { s.height = PLOT.top; },
        grid: { display: false, drawTicks: false },
        border: { display: false },
        ticks: { color: AXIS_COLOR, font: { size: 22 }, padding: 2, maxRotation: 0, autoSkip: false }
      },
      yBlue: yAxis('left', RANGES.yBlue, A_TICKS, PLOT.left, 10),
      yBlack: yAxis('left', RANGES.yBlack, A_TICKS, 0, 0),
      yB: yAxis('left', RANGES.yB, B_TICKS, 0, 0),
      yRed: yAxis('right', RANGES.yRed, A_TICKS, 1030 - PLOT.right, 10),
      yGreen: yAxis('right', RANGES.yGreen, A_TICKS, 0, 0)
    }
  },
  plugins: [frame]
});
</script>
</body>
</html>
